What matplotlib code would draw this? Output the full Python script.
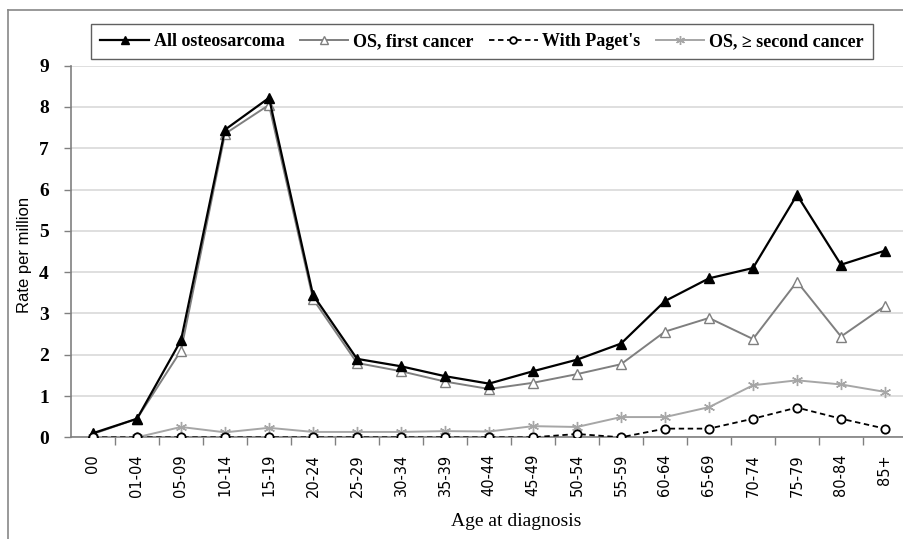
import matplotlib
matplotlib.use("Agg")
import matplotlib.pyplot as plt
from matplotlib.lines import Line2D

categories = ["00", "01-04", "05-09", "10-14", "15-19", "20-24", "25-29", "30-34",
              "35-39", "40-44", "45-49", "50-54", "55-59", "60-64", "65-69", "70-74",
              "75-79", "80-84", "85+"]
all_os = [0.1, 0.45, 2.35, 7.45, 8.22, 3.45, 1.9, 1.72, 1.48, 1.3, 1.6, 1.88, 2.27,
          3.3, 3.85, 4.1, 5.87, 4.18, 4.52]
first_cancer = [0.08, 0.45, 2.1, 7.35, 8.05, 3.35, 1.8, 1.6, 1.35, 1.17, 1.32, 1.53, 1.77,
                2.56, 2.89, 2.38, 3.77, 2.44, 3.18]
pagets = [0, 0, 0, 0, 0, 0, 0, 0, 0, 0, 0, 0.08, 0, 0.21, 0.21, 0.45, 0.72, 0.45, 0.21]
second_cancer = [0, 0, 0.25, 0.12, 0.23, 0.13, 0.13, 0.13, 0.15, 0.14, 0.27, 0.25, 0.49,
                 0.49, 0.73, 1.26, 1.38, 1.28, 1.1]
yticks = list(range(0, 10))

W, H = 904, 539
fig = plt.figure(figsize=(W / 100, H / 100), dpi=100)
ax = fig.add_axes([71 / W, 1 - 437.3 / H, (907 - 71) / W, (437.3 - 65.7) / H])

x = list(range(len(categories)))
ax.plot(x, all_os, color="black", lw=1.6, marker="^", ms=6.5, mfc="black", mec="black",
        label="All osteosarcoma", zorder=5)
ax.plot(x, first_cancer, color="#7f7f7f", lw=1.4, marker="^", ms=6.5, mfc="white",
        mec="#7f7f7f", label="OS, first cancer", zorder=4)
ax.plot(x, pagets, color="black", lw=1.3, ls=(0, (3, 2)), marker="o", ms=6, mfc="white",
        mec="black", mew=1.3, label="With Paget's", zorder=6)
ax.plot(x, second_cancer, color="#a6a6a6", lw=1.4, marker=(6, 2, 0), ms=8,
        mec="#a6a6a6", label="OS, \u2265 second cancer", zorder=3)

ax.set_xlim(-0.5, len(categories) - 0.5)
ax.set_ylim(0, 9)
ax.set_yticks(yticks)
ax.set_yticklabels([str(v) for v in yticks], fontfamily="Liberation Serif",
                   fontweight="bold", fontsize=14)
ax.set_xticks(x)
ax.set_xticklabels(categories, rotation=90, fontfamily="DejaVu Sans", fontsize=10.5)
ax.set_xticks([i + 0.5 for i in x[:-1]], minor=True)
ax.tick_params(axis="x", which="major", length=0, pad=12)
ax.tick_params(axis="x", which="minor", length=6, width=1, color="#808080", direction="out")
ax.tick_params(axis="y", length=5, width=1, color="#808080", pad=11)

ax.grid(axis="y", color="#d9d9d9", lw=1.2)
ax.set_axisbelow(True)
for s in ["top", "right"]:
    ax.spines[s].set_visible(False)
for s in ["left", "bottom"]:
    ax.spines[s].set_color("#808080")
    ax.spines[s].set_linewidth(1.2)

fig.text(25 / W, 1 - 255 / H, "Rate per million", rotation=90, ha="center", va="center",
         fontfamily="Liberation Sans", fontsize=12)
fig.text(516 / W, 1 - 521 / H, "Age at diagnosis", ha="center", va="center",
         fontfamily="Liberation Serif", fontsize=14)

leg = fig.legend(loc="center", bbox_to_anchor=(482 / W, 1 - 41.5 / H), ncol=4,
                 prop={"family": ["Liberation Serif", "DejaVu Serif"], "weight": "bold", "size": 13},
                 frameon=True, fancybox=False, edgecolor="#606060", handlelength=2.7,
                 handletextpad=0.25, columnspacing=0.85, borderpad=0.5, framealpha=1,
                 markerscale=0.8)
leg.get_frame().set_linewidth(1.0)

# outer chart border
fig.add_artist(Line2D([8 / W, 1], [1 - 10 / H, 1 - 10 / H], transform=fig.transFigure,
                      color="#888888", lw=1.2))
fig.add_artist(Line2D([8 / W, 8 / W], [0, 1 - 10 / H], transform=fig.transFigure,
                      color="#888888", lw=1.2))

fig.savefig("out.png", dpi=100)
